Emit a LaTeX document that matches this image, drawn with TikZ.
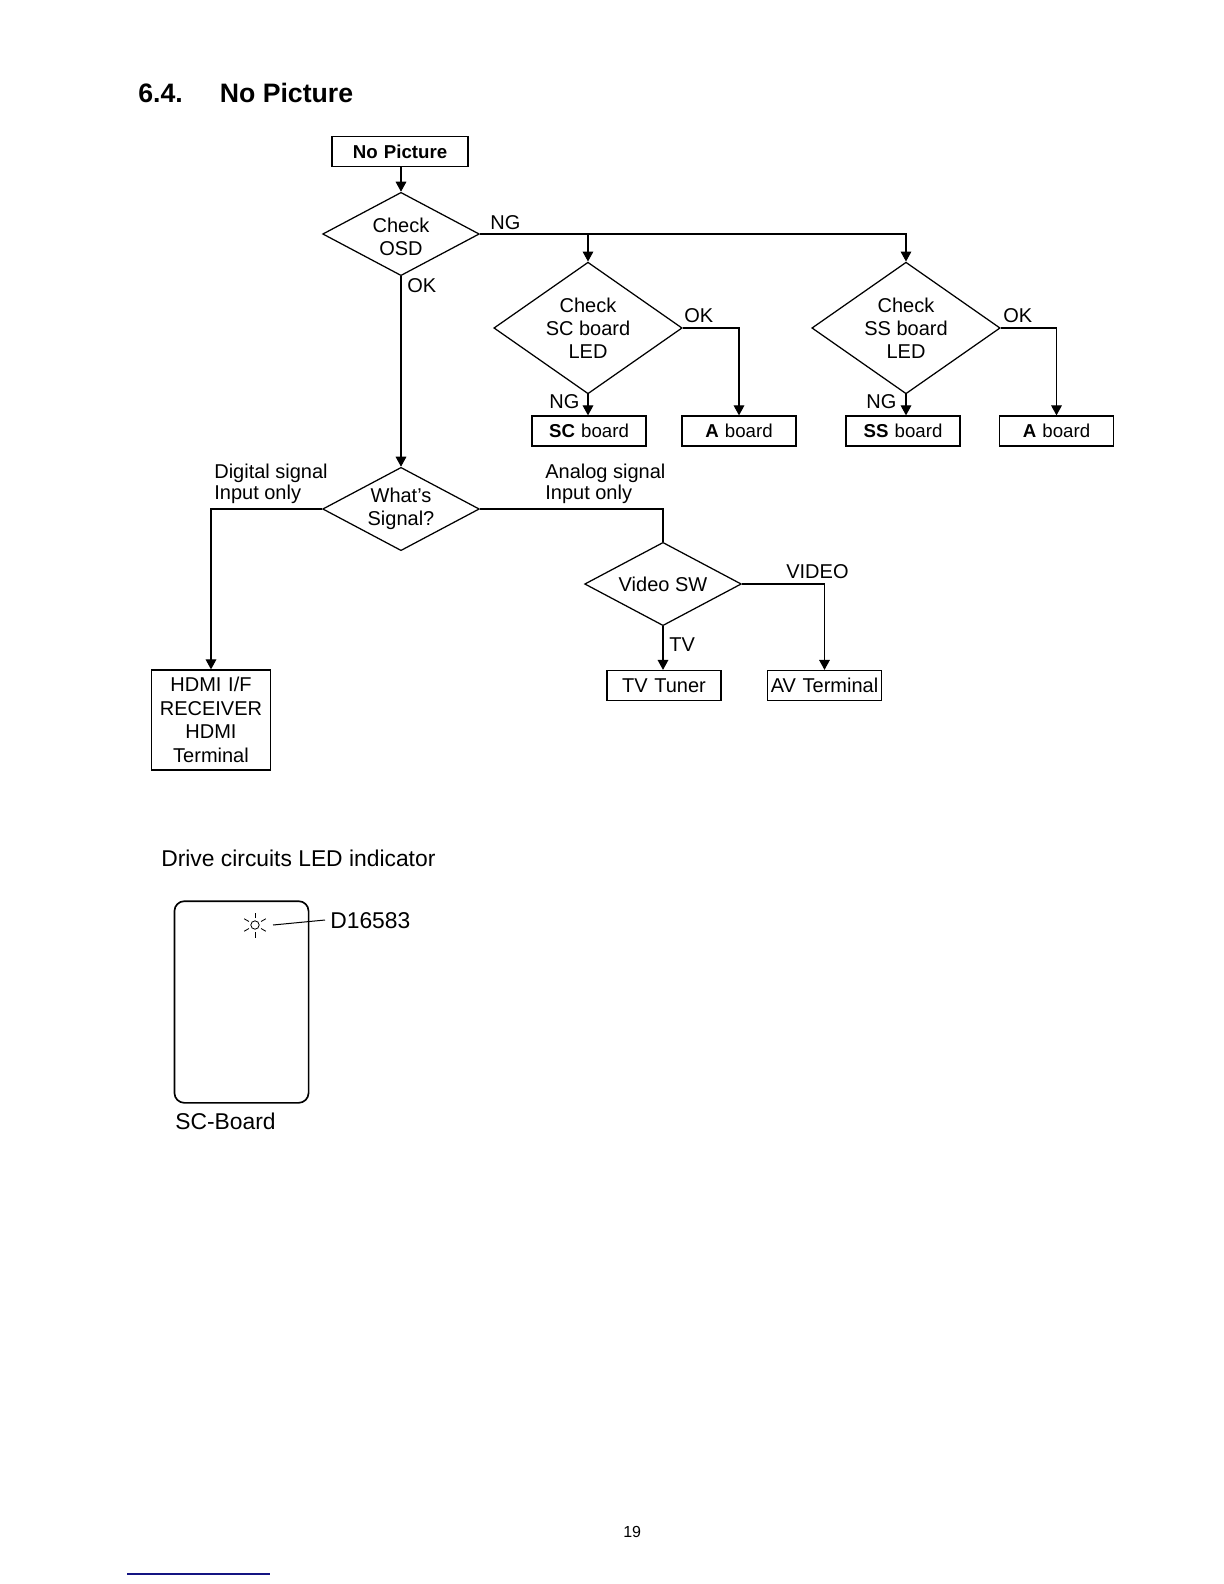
\documentclass[tikz,border=0pt]{standalone}
\usepackage{fontspec}
\setmainfont{Liberation Sans}
\usetikzlibrary{arrows.meta,calc,positioning,shapes.geometric}
\definecolor{linknavy}{RGB}{20,20,130}
\tikzset{
  box/.style={rectangle,draw,line width=0.75pt,inner sep=0pt,align=center,text width=68.5pt,minimum height=18pt},
  boldbox/.style={box,font=\fontsize{11.2}{13.8}\selectfont},
  check/.style={diamond,draw,line width=0.75pt,inner sep=0pt,align=center,shape aspect=1.89,minimum width=94pt,minimum height=50pt},
  bigcheck/.style={check,shape aspect=1.43,minimum width=113pt,minimum height=79pt},
  edge/.style={-{Triangle[length=6pt,width=6.4pt]},line width=0.7pt},
  uedge/.style={line width=0.7pt},
  lab/.style={inner sep=0pt,anchor=base west,align=left},
  every node/.style={font=\fontsize{12}{13.8}\selectfont}
}
\begin{document}
\begin{tikzpicture}[x=0.6pt,y=-0.6pt]
\useasboundingbox (0,0) rectangle (1224,1584);
% heading
\node[lab,font=\fontsize{16}{18}\selectfont\bfseries] (secnum) at (138,102) {6.4.};
\node[lab,font=\fontsize{16}{18}\selectfont\bfseries] (sectitle) at (219.5,102) {No Picture};
% flow
\node[boldbox,text width=81.5pt] (nopic) at (400,151.5) {\textbf{No Picture}};
\node[check] (chkosd) at (401,234) {\rule{0pt}{12.5pt}Check\\OSD};
\node[bigcheck] (chksc) at (588,328) {Check\\SC board\\LED};
\node[bigcheck] (chkss) at (906,328) {Check\\SS board\\LED};
\node[boldbox] (scbox) at (589,431) {\textbf{SC} board};
\node[boldbox] (aboxa) at (739,431) {\textbf{A} board};
\node[boldbox] (ssbox) at (903,431) {\textbf{SS} board};
\node[boldbox] (aboxb) at (1056.5,431) {\textbf{A} board};
\node[check] (chksig) at (401,509) {What's\\Signal?};
\node[check] (chkvid) at (663,584) {Video SW};
\node[box,text width=71.5pt,minimum height=60pt,font=\fontsize{12}{14.2}\selectfont] (hdmi) at (211,720) {HDMI I/F\\RECEIVER\\HDMI\\Terminal};
\node[box] (tuner) at (664,685.5) {TV Tuner};
\node[box,text width=68.5pt] (avterm) at (824.5,685.5) {AV Terminal};

\draw[edge] (chkosd.north |- nopic.south) -- (chkosd.north);
\draw[edge] (chkosd.east) -| (chkss.north);
\draw[edge] (chkosd.east -| chksc.north) -- (chksc.north);
\draw[edge] (chkosd) -- (chksig);
\draw[edge] (chksc.south) -- (chksc.south |- scbox.north);
\draw[edge] (chksc.east) -| (aboxa.north);
\draw[edge] (chkss.south) -- (chkss.south |- ssbox.north);
\draw[edge] (chkss.east) -| (aboxb.north);
\draw[edge] (chksig.west) -| (hdmi.north);
\draw[uedge] (chksig.east) -| (chkvid.north);
\draw[edge] (chkvid.south) -- (chkvid.south |- tuner.north);
\draw[edge] (chkvid.east) -| (avterm.north);

\node[lab] (ngosd) at (490,229) {NG};
\node[lab] (okosd) at (407,292) {OK};
\node[lab] (oksc) at (684,322) {OK};
\node[lab] (ngsc) at (549,408) {NG};
\node[lab] (okss) at (1003,322) {OK};
\node[lab] (ngss) at (866,408) {NG};
\node[lab] (digi) at (214,478) {Digital signal};
\node[lab] (digib) at (214,499) {Input only};
\node[lab] (ana) at (545,478) {Analog signal};
\node[lab] (anab) at (545,499) {Input only};
\node[lab] (vidlab) at (786,578) {VIDEO};
\node[lab] (tvlab) at (669,651) {TV};

% board
\node[lab,font=\fontsize{13.7}{16}\selectfont] (drive) at (161,866) {Drive circuits LED indicator};
\node[draw,line width=1pt,rounded corners=6pt,minimum width=80.5pt,minimum height=121pt,inner sep=0pt] (scboard) at (241.5,1002) {};
\node[circle,draw,line width=0.5pt,inner sep=0pt,minimum size=5pt] (led) at (255,925) {};
\foreach \ang in {30,90,150,210,270,330}
  \draw[line width=0.5pt] ($(led)+(\ang:7)$) -- ($(led)+(\ang:12.5)$);
\node[lab,font=\fontsize{13.7}{16}\selectfont] (dlab) at (330,928) {D16583};
\coordinate (ledend) at (273,925);
\draw[line width=0.6pt] (ledend) -- (325,920);
\node[lab,font=\fontsize{13.7}{16}\selectfont] (boardlab) at (175,1129) {SC-Board};

% footer
\node[lab,font=\fontsize{9.6}{11}\selectfont] (pagenum) at (623,1537) {19};
\coordinate (linka) at (127,1574);
\coordinate (linkb) at (270,1574);
\draw[linknavy,line width=0.7pt] (linka) -- (linkb);
\end{tikzpicture}
\end{document}
